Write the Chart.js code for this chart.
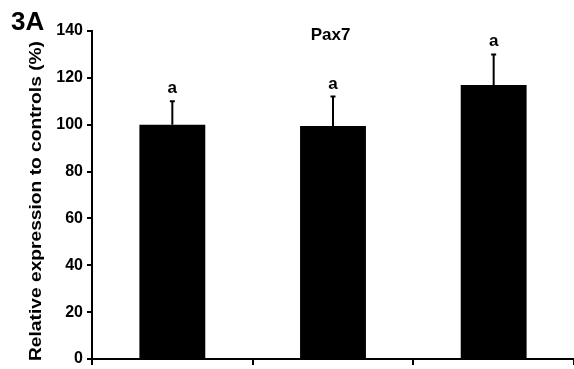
<!DOCTYPE html>
<html>
<head>
<meta charset="utf-8">
<script src="https://cdn.jsdelivr.net/npm/chart.js@4"></script>
<style>
  html, body { margin: 0; padding: 0; background: #fff; }
  #wrap { width: 574px; height: 369px; position: relative; }
</style>
</head>
<body>
<div id="wrap"><canvas id="pax7" width="574" height="369"></canvas></div>
<script>
// ----------------- DATA -----------------
const categories = ["", "", ""];
const means = [100, 99.5, 117];
const errUpper = [110, 112, 130];   // top of error bar
const letters = ["a", "a", "a"];
const yTicks = [0, 20, 40, 60, 80, 100, 120, 140];

const FONT = "'Liberation Sans', Arial, sans-serif";

// ----------------- EXTRAS (error bars, letters, titles) -----------------
const extras = {
  id: "extras",
  afterDatasetsDraw(chart) {
    const ctx = chart.ctx;
    const x = chart.scales.x;
    const y = chart.scales.y;

    ctx.save();
    ctx.strokeStyle = "#000";
    ctx.fillStyle = "#000";
    ctx.lineWidth = 2;

    // error bars (upper only) + letters
    categories.forEach((c, i) => {
      const cx = x.getPixelForValue(i);
      const yTop = y.getPixelForValue(means[i]);
      const yErr = y.getPixelForValue(errUpper[i]);
      ctx.beginPath();
      ctx.moveTo(cx, yTop);
      ctx.lineTo(cx, yErr);
      ctx.moveTo(cx - 2.5, yErr);
      ctx.lineTo(cx + 2.5, yErr);
      ctx.stroke();

      ctx.font = "bold 17px " + FONT;
      ctx.textAlign = "center";
      ctx.textBaseline = "alphabetic";
      ctx.fillText(letters[i], cx, yErr - 8);
    });

    // title
    ctx.font = "bold 17px " + FONT;
    ctx.textAlign = "center";
    ctx.fillText("Pax7", 330.5, 40);

    // panel label
    ctx.font = "bold 26px " + FONT;
    ctx.textAlign = "left";
    ctx.fillText("3A", 11, 30);

    // y axis title, stretched to the length seen in the figure
    const label = "Relative expression to controls (%)";
    ctx.font = "bold 17px " + FONT;
    const w = ctx.measureText(label).width;
    ctx.translate(41, 201);
    ctx.rotate(-Math.PI / 2);
    ctx.scale(320 / w, 1);
    ctx.textAlign = "center";
    ctx.fillText(label, 0, 0);
    ctx.restore();
  }
};

// ----------------- CHART -----------------
new Chart(document.getElementById("pax7"), {
  type: "bar",
  data: {
    labels: categories,
    datasets: [{
      data: means,
      backgroundColor: "#000",
      borderWidth: 0,
      categoryPercentage: 1,
      barPercentage: 0.41
    }]
  },
  options: {
    responsive: false,
    animation: false,
    devicePixelRatio: 1,
    layout: { padding: { top: 31, right: 0, bottom: 0, left: 0 } },
    plugins: { legend: { display: false }, tooltip: { enabled: false } },
    scales: {
      x: {
        grid: { display: true, offset: true, drawOnChartArea: false, drawTicks: true, tickLength: 6, color: "#000", lineWidth: 2 },
        border: { color: "#000", width: 2 },
        ticks: { display: false },
        afterFit: s => { s.height = 10; }
      },
      y: {
        min: 0,
        max: 140,
        afterBuildTicks: s => { s.ticks = yTicks.map(v => ({ value: v })); },
        grid: { display: true, drawOnChartArea: false, drawTicks: true, tickLength: 5, color: "#000", lineWidth: 2 },
        border: { color: "#000", width: 2 },
        ticks: { color: "#000", padding: 4, font: { family: FONT, size: 16, weight: "bold" } },
        afterFit: s => { s.width = 92; s.paddingTop = 0; s.paddingBottom = 0; }
      }
    }
  },
  plugins: [extras]
});
</script>
</body>
</html>
